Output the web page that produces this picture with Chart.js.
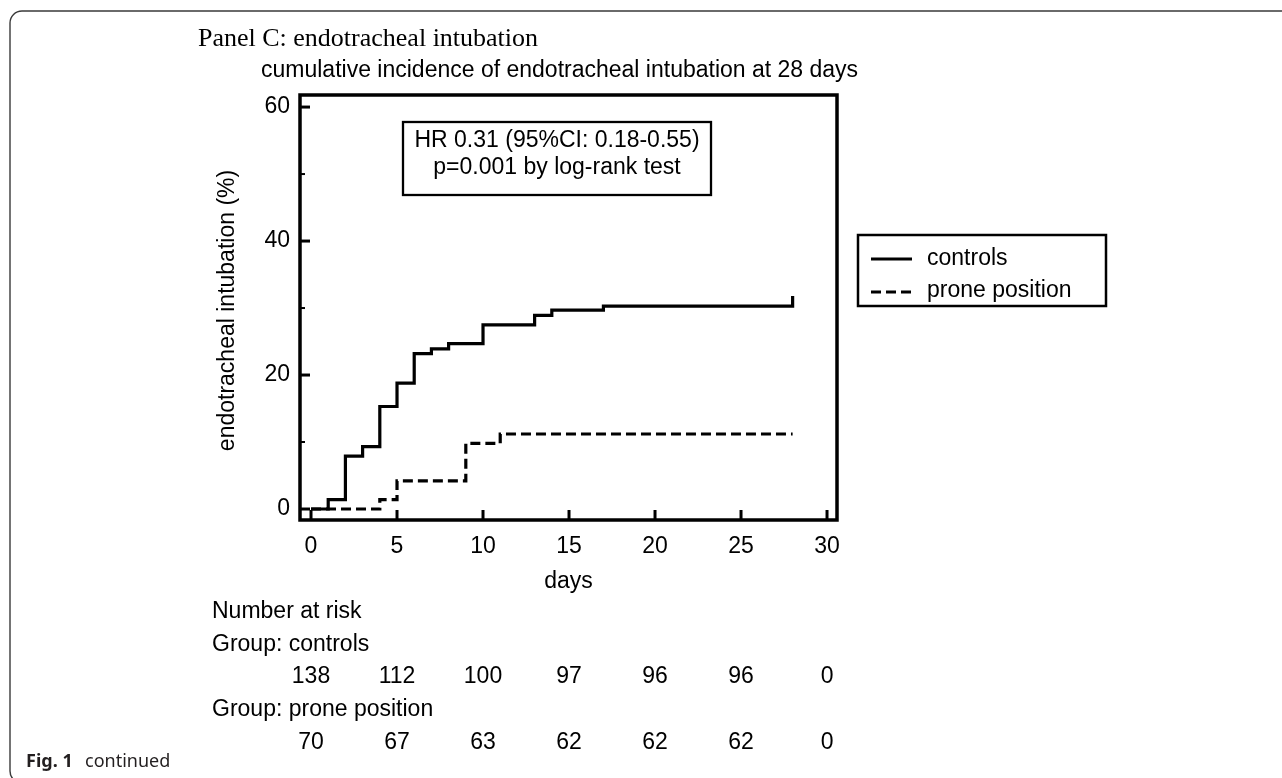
<!DOCTYPE html>
<html><head><meta charset="utf-8">
<script src="https://cdn.jsdelivr.net/npm/chart.js@4"></script>
<style>html,body{margin:0;padding:0;background:#fff}canvas{display:block}</style>
</head><body>
<canvas id="c" width="1282" height="778"></canvas>
<script>
// ---- data ----
const controlDays = [0, 1, 2, 3, 4, 5, 6, 7, 8, 10, 13, 14, 17, 28, 28];
const controlPct  = [0, 1.4, 7.9, 9.3, 15.3, 18.8, 23.2, 23.9, 24.7, 27.5, 28.9, 29.7, 30.3, 30.3, 31.8];
const proneDays = [0, 4, 5, 9, 11, 28];
const pronePct  = [0, 1.4, 4.2, 9.8, 11.2, 11.2];
const seriesLabels = ['controls', 'prone position'];
const xTicks = [0, 5, 10, 15, 20, 25, 30];
const yTicks = [0, 10, 20, 30, 40, 50, 60];
const yLabelled = [0, 20, 40, 60];
const atRiskTimes = [0, 5, 10, 15, 20, 25, 30];
const atRiskControls = [138, 112, 100, 97, 96, 96, 0];
const atRiskProne = [70, 67, 63, 62, 62, 62, 0];
const titleText = 'Panel C: endotracheal intubation';
const subtitleText = 'cumulative incidence of endotracheal intubation at 28 days';
const yTitle = 'endotracheal intubation (%)';
const xTitle = 'days';
const hrLines = ['HR 0.31 (95%CI: 0.18-0.55)', 'p=0.001 by log-rank test'];
const riskHeader = 'Number at risk';
const groupLabels = ['Group: controls', 'Group: prone position'];

const SANS = '"Liberation Sans", Arial, Helvetica, sans-serif';
const SERIF = '"Liberation Serif", "Times New Roman", serif';

function pts(xs, ys) { return xs.map((x, i) => ({x: x, y: ys[i]})); }

const decor = {
  id: 'decor',
  beforeDraw(chart) {
    const ctx = chart.ctx;
    ctx.save();
    ctx.fillStyle = '#fff';
    ctx.fillRect(0, 0, chart.width, chart.height);
    // outer rounded frame
    ctx.strokeStyle = '#3a3a3a';
    ctx.lineWidth = 1.4;
    ctx.beginPath();
    if (ctx.roundRect) ctx.roundRect(10, 11, 1300, 772, 12); else ctx.rect(10, 11, 1300, 772);
    ctx.stroke();
    ctx.restore();
  },
  afterDraw(chart) {
    const ctx = chart.ctx;
    const xs = chart.scales.x, ys = chart.scales.y;
    const a = chart.chartArea;
    ctx.save();
    // plot frame
    ctx.strokeStyle = '#000';
    ctx.lineWidth = 3.5;
    ctx.strokeRect(a.left, a.top, a.right - a.left, a.bottom - a.top);
    // inward ticks
    ctx.lineCap = 'butt';
    yTicks.forEach(v => {
      const py = ys.getPixelForValue(v);
      const major = yLabelled.includes(v);
      ctx.lineWidth = major ? 3 : 2;
      ctx.beginPath();
      ctx.moveTo(a.left, py);
      ctx.lineTo(a.left + (major ? 10 : 5), py);
      ctx.stroke();
    });
    xTicks.forEach(v => {
      const px = xs.getPixelForValue(v);
      ctx.lineWidth = 3;
      ctx.beginPath();
      ctx.moveTo(px, a.bottom);
      ctx.lineTo(px, a.bottom - 10);
      ctx.stroke();
    });
    ctx.fillStyle = '#000';
    // title
    ctx.font = '26px ' + SERIF;
    ctx.textAlign = 'left';
    ctx.textBaseline = 'alphabetic';
    ctx.fillText(titleText, 198, 46);
    // subtitle
    ctx.font = '23px ' + SANS;
    ctx.fillText(subtitleText, 261, 77);
    // y title
    ctx.save();
    ctx.translate(234, (a.top + a.bottom) / 2 + 3);
    ctx.rotate(-Math.PI / 2);
    ctx.textAlign = 'center';
    ctx.fillText(yTitle, 0, 0);
    ctx.restore();
    // x title
    ctx.textAlign = 'center';
    ctx.fillText(xTitle, (a.left + a.right) / 2, 588);
    // HR box
    ctx.lineWidth = 2.3;
    ctx.strokeRect(403, 122, 308, 73);
    ctx.fillText(hrLines[0], 557, 147);
    ctx.fillText(hrLines[1], 557, 174);
    // legend
    ctx.lineWidth = 2.5;
    ctx.strokeRect(858, 235, 248, 71);
    const dsets = chart.data.datasets;
    const rows = [{ly: 259, ty: 265}, {ly: 292, ty: 297}];
    rows.forEach((r, i) => {
      ctx.save();
      ctx.lineWidth = dsets[i].borderWidth;
      ctx.setLineDash(dsets[i].borderDash || []);
      ctx.beginPath();
      ctx.moveTo(871, r.ly);
      ctx.lineTo(912, r.ly);
      ctx.stroke();
      ctx.restore();
      ctx.textAlign = 'left';
      ctx.fillText(dsets[i].label, 927, r.ty);
    });
    // number at risk table
    ctx.textAlign = 'left';
    ctx.fillText(riskHeader, 212, 618);
    ctx.fillText(groupLabels[0], 212, 651);
    ctx.fillText(groupLabels[1], 212, 716);
    ctx.textAlign = 'center';
    atRiskTimes.forEach((t, i) => {
      const px = xs.getPixelForValue(t);
      ctx.fillText(String(atRiskControls[i]), px, 683);
      ctx.fillText(String(atRiskProne[i]), px, 749);
    });
    // caption
    ctx.textAlign = 'left';
    ctx.fillStyle = '#231f20';
    ctx.font = 'bold 18px "Noto Sans", "Open Sans", sans-serif';
    ctx.fillText('Fig. 1', 26, 767);
    ctx.font = '18px "Noto Sans", "Open Sans", sans-serif';
    ctx.fillText('continued', 85, 767);
    ctx.restore();
  }
};

new Chart(document.getElementById('c'), {
  type: 'line',
  data: {
    datasets: [
      { label: seriesLabels[0], data: pts(controlDays, controlPct), stepped: true,
        borderColor: '#000', borderWidth: 3.2, pointRadius: 0, fill: false, tension: 0 },
      { label: seriesLabels[1], data: pts(proneDays, pronePct), stepped: true,
        borderColor: '#000', borderWidth: 3.2, borderDash: [10, 5], pointRadius: 0, fill: false, tension: 0 }
    ]
  },
  options: {
    responsive: false,
    animation: false,
    devicePixelRatio: 1,
    layout: { padding: { left: 0, top: 95, right: 445, bottom: 0 } },
    plugins: { legend: { display: false }, tooltip: { enabled: false }, title: { display: false } },
    scales: {
      x: {
        type: 'linear', min: -0.64, max: 30.58,
        afterBuildTicks: s => { s.ticks = xTicks.map(v => ({value: v})); },
        afterFit: s => { s.height = 258; },
        grid: { display: false, drawTicks: false },
        border: { display: false },
        ticks: { autoSkip: false, maxRotation: 0, padding: 13, color: '#000',
                 font: { family: SANS, size: 23 }, callback: v => String(v) }
      },
      y: {
        type: 'linear', min: -1.64, max: 61.8,
        afterBuildTicks: s => { s.ticks = yLabelled.map(v => ({value: v})); },
        afterFit: s => { s.width = 300; },
        grid: { display: false, drawTicks: false },
        border: { display: false },
        ticks: { autoSkip: false, padding: 10, color: '#000',
                 font: { family: SANS, size: 23 }, callback: v => String(v) }
      }
    }
  },
  plugins: [decor]
});
</script>
</body></html>
